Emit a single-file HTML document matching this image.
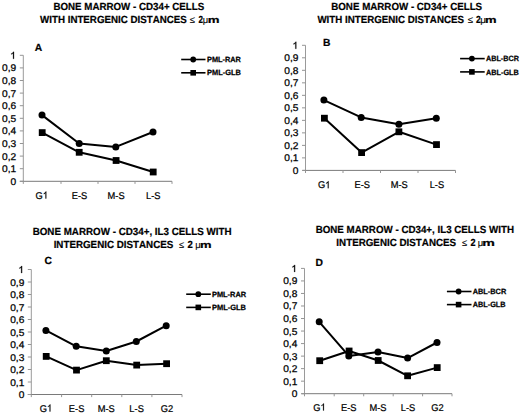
<!DOCTYPE html>
<html><head><meta charset="utf-8"><style>
html,body{margin:0;padding:0;background:#fff;}
body{width:520px;height:414px;overflow:hidden;}
svg{display:block;}
text{font-family:"Liberation Sans",sans-serif;fill:#000;text-rendering:geometricPrecision;font-kerning:none;}
.yl{font-size:9.7px;stroke:#000;stroke-width:0.25px;}
.xl{font-size:9.8px;stroke:#000;stroke-width:0.22px;}
.tt{font-weight:bold;stroke:#000;stroke-width:0.2px;}
.sym{font-weight:normal;stroke:#000;stroke-width:0.1px;}
.lt{font-size:10.3px;font-weight:bold;stroke:#000;stroke-width:0.2px;}
.lg{font-weight:bold;stroke:#000;stroke-width:0.25px;}
</style></head><body>
<svg width="520" height="414" viewBox="0 0 520 414">
<rect width="520" height="414" fill="#fff"/>
<line x1="23.3" y1="55.3" x2="23.3" y2="181.3" stroke="#9a9a9a" stroke-width="1"/>
<line x1="19.8" y1="181.3" x2="172" y2="181.3" stroke="#7a7a7a" stroke-width="1"/>
<line x1="19.8" y1="181.3" x2="23.3" y2="181.3" stroke="#959595" stroke-width="1"/>
<text class="yl" transform="translate(16.2,184.8) scale(1.05,1)" text-anchor="end">0</text>
<line x1="19.8" y1="168.7" x2="23.3" y2="168.7" stroke="#959595" stroke-width="1"/>
<text class="yl" transform="translate(16.2,172.2) scale(1.05,1)" text-anchor="end">0,1</text>
<line x1="19.8" y1="156.1" x2="23.3" y2="156.1" stroke="#959595" stroke-width="1"/>
<text class="yl" transform="translate(16.2,159.6) scale(1.05,1)" text-anchor="end">0,2</text>
<line x1="19.8" y1="143.5" x2="23.3" y2="143.5" stroke="#959595" stroke-width="1"/>
<text class="yl" transform="translate(16.2,147) scale(1.05,1)" text-anchor="end">0,3</text>
<line x1="19.8" y1="130.9" x2="23.3" y2="130.9" stroke="#959595" stroke-width="1"/>
<text class="yl" transform="translate(16.2,134.4) scale(1.05,1)" text-anchor="end">0,4</text>
<line x1="19.8" y1="118.3" x2="23.3" y2="118.3" stroke="#959595" stroke-width="1"/>
<text class="yl" transform="translate(16.2,121.8) scale(1.05,1)" text-anchor="end">0,5</text>
<line x1="19.8" y1="105.7" x2="23.3" y2="105.7" stroke="#959595" stroke-width="1"/>
<text class="yl" transform="translate(16.2,109.2) scale(1.05,1)" text-anchor="end">0,6</text>
<line x1="19.8" y1="93.1" x2="23.3" y2="93.1" stroke="#959595" stroke-width="1"/>
<text class="yl" transform="translate(16.2,96.6) scale(1.05,1)" text-anchor="end">0,7</text>
<line x1="19.8" y1="80.5" x2="23.3" y2="80.5" stroke="#959595" stroke-width="1"/>
<text class="yl" transform="translate(16.2,84) scale(1.05,1)" text-anchor="end">0,8</text>
<line x1="19.8" y1="67.9" x2="23.3" y2="67.9" stroke="#959595" stroke-width="1"/>
<text class="yl" transform="translate(16.2,71.4) scale(1.05,1)" text-anchor="end">0,9</text>
<line x1="19.8" y1="55.3" x2="23.3" y2="55.3" stroke="#959595" stroke-width="1"/>
<path d="M763 0L583 0L583 1147Q518 1085 412 1023Q306 961 221 930L221 1104Q372 1175 485 1276Q598 1377 645 1472L763 1472Z" transform="translate(10.186,58.800) scale(0.004973,-0.004736)" fill="#000" stroke="#000" stroke-width="0.25" vector-effect="non-scaling-stroke"/>
<line x1="23.3" y1="181.3" x2="23.3" y2="183.9" stroke="#959595" stroke-width="1"/>
<line x1="61" y1="181.3" x2="61" y2="183.9" stroke="#959595" stroke-width="1"/>
<line x1="98" y1="181.3" x2="98" y2="183.9" stroke="#959595" stroke-width="1"/>
<line x1="135" y1="181.3" x2="135" y2="183.9" stroke="#959595" stroke-width="1"/>
<line x1="172" y1="181.3" x2="172" y2="183.9" stroke="#959595" stroke-width="1"/>
<text class="xl" transform="translate(35.59,198.6) scale(0.95,1)">G</text>
<path d="M763 0L583 0L583 1147Q518 1085 412 1023Q306 961 221 930L221 1104Q372 1175 485 1276Q598 1377 645 1472L763 1472Z" transform="translate(42.832,198.600) scale(0.004546,-0.004785)" fill="#000" stroke="#000" stroke-width="0.22" vector-effect="non-scaling-stroke"/>
<text class="xl" transform="translate(79.5,198.6) scale(0.95,1)" text-anchor="middle">E-S</text>
<text class="xl" transform="translate(116.1,198.6) scale(0.95,1)" text-anchor="middle">M-S</text>
<text class="xl" transform="translate(153.3,198.6) scale(0.95,1)" text-anchor="middle">L-S</text>
<polyline points="42,115.1 79.2,143.5 115.8,146.9 153,132" fill="none" stroke="#000" stroke-width="2.0" stroke-linejoin="round"/>
<polyline points="42.2,132.6 79.2,152.3 116.1,160.5 153.2,172" fill="none" stroke="#000" stroke-width="2.0" stroke-linejoin="round"/>
<circle cx="42" cy="115.1" r="3.5"/>
<circle cx="79.2" cy="143.5" r="3.5"/>
<circle cx="115.8" cy="146.9" r="3.5"/>
<circle cx="153" cy="132" r="3.5"/>
<rect x="38.8" y="129.2" width="6.8" height="6.8"/>
<rect x="75.8" y="148.9" width="6.8" height="6.8"/>
<rect x="112.7" y="157.1" width="6.8" height="6.8"/>
<rect x="149.8" y="168.6" width="6.8" height="6.8"/>
<text class="lt" x="34.8" y="50.7">A</text>
<text class="tt" xml:space="preserve" style="font-size:10.3px" transform="translate(53.448,9.600) scale(0.9464,1)">BONE MARROW - CD34+ CELLS</text>
<text class="tt" xml:space="preserve" style="font-size:10.3px" transform="translate(40.090,22.700) scale(0.9459,1)">WITH INTERGENIC DISTANCES</text>
<text class="sym" xml:space="preserve" style="font-size:9.5px" transform="translate(189.709,23.000) scale(0.9946,1)">≤</text>
<text class="tt" xml:space="preserve" style="font-size:10.3px" transform="translate(198.519,22.700) scale(0.7865,1)">2</text>
<text class="sym" xml:space="preserve" style="font-size:9.5px" transform="translate(202.866,22.700) scale(0.9909,1)">μ</text>
<text class="tt" xml:space="preserve" style="font-size:9.4px" transform="translate(207.725,22.700) scale(1.4115,1)">m</text>
<line x1="181.2" y1="59.5" x2="205.5" y2="59.5" stroke="#000" stroke-width="1.6"/>
<circle cx="193.2" cy="59.5" r="2.9"/>
<text class="lg" xml:space="preserve" style="font-size:7.6px" transform="translate(207.033,62.100) scale(0.9673,1)">PML-RAR</text>
<line x1="181.2" y1="72.8" x2="205.5" y2="72.8" stroke="#000" stroke-width="1.6"/>
<rect x="190.4" y="70" width="5.6" height="5.6"/>
<text class="lg" xml:space="preserve" style="font-size:7.6px" transform="translate(207.029,75.400) scale(0.9759,1)">PML-GLB</text>
<line x1="305.5" y1="45.3" x2="305.5" y2="170.4" stroke="#9a9a9a" stroke-width="1"/>
<line x1="302.5" y1="170.4" x2="455.5" y2="170.4" stroke="#7a7a7a" stroke-width="1"/>
<line x1="302" y1="170.4" x2="305.5" y2="170.4" stroke="#959595" stroke-width="1"/>
<text class="yl" transform="translate(298.5,173.9) scale(1.05,1)" text-anchor="end">0</text>
<line x1="302" y1="157.89" x2="305.5" y2="157.89" stroke="#959595" stroke-width="1"/>
<text class="yl" transform="translate(298.5,161.39) scale(1.05,1)" text-anchor="end">0,1</text>
<line x1="302" y1="145.38" x2="305.5" y2="145.38" stroke="#959595" stroke-width="1"/>
<text class="yl" transform="translate(298.5,148.88) scale(1.05,1)" text-anchor="end">0,2</text>
<line x1="302" y1="132.87" x2="305.5" y2="132.87" stroke="#959595" stroke-width="1"/>
<text class="yl" transform="translate(298.5,136.37) scale(1.05,1)" text-anchor="end">0,3</text>
<line x1="302" y1="120.36" x2="305.5" y2="120.36" stroke="#959595" stroke-width="1"/>
<text class="yl" transform="translate(298.5,123.86) scale(1.05,1)" text-anchor="end">0,4</text>
<line x1="302" y1="107.85" x2="305.5" y2="107.85" stroke="#959595" stroke-width="1"/>
<text class="yl" transform="translate(298.5,111.35) scale(1.05,1)" text-anchor="end">0,5</text>
<line x1="302" y1="95.34" x2="305.5" y2="95.34" stroke="#959595" stroke-width="1"/>
<text class="yl" transform="translate(298.5,98.84) scale(1.05,1)" text-anchor="end">0,6</text>
<line x1="302" y1="82.83" x2="305.5" y2="82.83" stroke="#959595" stroke-width="1"/>
<text class="yl" transform="translate(298.5,86.33) scale(1.05,1)" text-anchor="end">0,7</text>
<line x1="302" y1="70.32" x2="305.5" y2="70.32" stroke="#959595" stroke-width="1"/>
<text class="yl" transform="translate(298.5,73.82) scale(1.05,1)" text-anchor="end">0,8</text>
<line x1="302" y1="57.81" x2="305.5" y2="57.81" stroke="#959595" stroke-width="1"/>
<text class="yl" transform="translate(298.5,61.31) scale(1.05,1)" text-anchor="end">0,9</text>
<line x1="302" y1="45.3" x2="305.5" y2="45.3" stroke="#959595" stroke-width="1"/>
<path d="M763 0L583 0L583 1147Q518 1085 412 1023Q306 961 221 930L221 1104Q372 1175 485 1276Q598 1377 645 1472L763 1472Z" transform="translate(292.486,48.800) scale(0.004973,-0.004736)" fill="#000" stroke="#000" stroke-width="0.25" vector-effect="non-scaling-stroke"/>
<line x1="305.5" y1="170.4" x2="305.5" y2="173" stroke="#959595" stroke-width="1"/>
<line x1="343" y1="170.4" x2="343" y2="173" stroke="#959595" stroke-width="1"/>
<line x1="380.5" y1="170.4" x2="380.5" y2="173" stroke="#959595" stroke-width="1"/>
<line x1="418" y1="170.4" x2="418" y2="173" stroke="#959595" stroke-width="1"/>
<line x1="455.5" y1="170.4" x2="455.5" y2="173" stroke="#959595" stroke-width="1"/>
<text class="xl" transform="translate(317.89,188.2) scale(0.95,1)">G</text>
<path d="M763 0L583 0L583 1147Q518 1085 412 1023Q306 961 221 930L221 1104Q372 1175 485 1276Q598 1377 645 1472L763 1472Z" transform="translate(325.132,188.200) scale(0.004546,-0.004785)" fill="#000" stroke="#000" stroke-width="0.22" vector-effect="non-scaling-stroke"/>
<text class="xl" transform="translate(362.2,188.2) scale(0.95,1)" text-anchor="middle">E-S</text>
<text class="xl" transform="translate(399.2,188.2) scale(0.95,1)" text-anchor="middle">M-S</text>
<text class="xl" transform="translate(436.9,188.2) scale(0.95,1)" text-anchor="middle">L-S</text>
<polyline points="323.9,100.1 361.2,117.4 398.9,124.2 436.3,118.2" fill="none" stroke="#000" stroke-width="2.0" stroke-linejoin="round"/>
<polyline points="324.4,118.2 361.6,152.6 398.9,131.8 436.5,144.6" fill="none" stroke="#000" stroke-width="2.0" stroke-linejoin="round"/>
<circle cx="323.9" cy="100.1" r="3.5"/>
<circle cx="361.2" cy="117.4" r="3.5"/>
<circle cx="398.9" cy="124.2" r="3.5"/>
<circle cx="436.3" cy="118.2" r="3.5"/>
<rect x="321" y="114.8" width="6.8" height="6.8"/>
<rect x="358.2" y="149.2" width="6.8" height="6.8"/>
<rect x="395.5" y="128.4" width="6.8" height="6.8"/>
<rect x="433.1" y="141.2" width="6.8" height="6.8"/>
<text class="lt" x="323" y="45.5">B</text>
<text class="tt" xml:space="preserve" style="font-size:10.3px" transform="translate(331.247,9.500) scale(0.9470,1)">BONE MARROW - CD34+ CELLS</text>
<text class="tt" xml:space="preserve" style="font-size:10.3px" transform="translate(317.390,22.600) scale(0.9453,1)">WITH INTERGENIC DISTANCES</text>
<text class="sym" xml:space="preserve" style="font-size:9.5px" transform="translate(467.703,22.900) scale(1.0163,1)">≤</text>
<text class="tt" xml:space="preserve" style="font-size:10.3px" transform="translate(476.005,22.600) scale(0.8268,1)">2</text>
<text class="sym" xml:space="preserve" style="font-size:9.5px" transform="translate(480.335,22.600) scale(1.0392,1)">μ</text>
<text class="tt" xml:space="preserve" style="font-size:9.4px" transform="translate(484.943,22.600) scale(1.3835,1)">m</text>
<line x1="460.1" y1="58.6" x2="484.7" y2="58.6" stroke="#000" stroke-width="1.6"/>
<circle cx="471.9" cy="58.6" r="2.9"/>
<text class="lg" xml:space="preserve" style="font-size:7.6px" transform="translate(486.045,61.200) scale(0.9498,1)">ABL-BCR</text>
<line x1="460.1" y1="71.9" x2="484.7" y2="71.9" stroke="#000" stroke-width="1.6"/>
<rect x="469.1" y="69.1" width="5.6" height="5.6"/>
<text class="lg" xml:space="preserve" style="font-size:7.6px" transform="translate(486.044,74.500) scale(0.9582,1)">ABL-GLB</text>
<line x1="31.3" y1="269.5" x2="31.3" y2="394.5" stroke="#9a9a9a" stroke-width="1"/>
<line x1="27.8" y1="394.5" x2="182" y2="394.5" stroke="#7a7a7a" stroke-width="1"/>
<line x1="27.8" y1="394.5" x2="31.3" y2="394.5" stroke="#959595" stroke-width="1"/>
<text class="yl" transform="translate(24.3,398) scale(1.05,1)" text-anchor="end">0</text>
<line x1="27.8" y1="382" x2="31.3" y2="382" stroke="#959595" stroke-width="1"/>
<text class="yl" transform="translate(24.3,385.5) scale(1.05,1)" text-anchor="end">0,1</text>
<line x1="27.8" y1="369.5" x2="31.3" y2="369.5" stroke="#959595" stroke-width="1"/>
<text class="yl" transform="translate(24.3,373) scale(1.05,1)" text-anchor="end">0,2</text>
<line x1="27.8" y1="357" x2="31.3" y2="357" stroke="#959595" stroke-width="1"/>
<text class="yl" transform="translate(24.3,360.5) scale(1.05,1)" text-anchor="end">0,3</text>
<line x1="27.8" y1="344.5" x2="31.3" y2="344.5" stroke="#959595" stroke-width="1"/>
<text class="yl" transform="translate(24.3,348) scale(1.05,1)" text-anchor="end">0,4</text>
<line x1="27.8" y1="332" x2="31.3" y2="332" stroke="#959595" stroke-width="1"/>
<text class="yl" transform="translate(24.3,335.5) scale(1.05,1)" text-anchor="end">0,5</text>
<line x1="27.8" y1="319.5" x2="31.3" y2="319.5" stroke="#959595" stroke-width="1"/>
<text class="yl" transform="translate(24.3,323) scale(1.05,1)" text-anchor="end">0,6</text>
<line x1="27.8" y1="307" x2="31.3" y2="307" stroke="#959595" stroke-width="1"/>
<text class="yl" transform="translate(24.3,310.5) scale(1.05,1)" text-anchor="end">0,7</text>
<line x1="27.8" y1="294.5" x2="31.3" y2="294.5" stroke="#959595" stroke-width="1"/>
<text class="yl" transform="translate(24.3,298) scale(1.05,1)" text-anchor="end">0,8</text>
<line x1="27.8" y1="282" x2="31.3" y2="282" stroke="#959595" stroke-width="1"/>
<text class="yl" transform="translate(24.3,285.5) scale(1.05,1)" text-anchor="end">0,9</text>
<line x1="27.8" y1="269.5" x2="31.3" y2="269.5" stroke="#959595" stroke-width="1"/>
<path d="M763 0L583 0L583 1147Q518 1085 412 1023Q306 961 221 930L221 1104Q372 1175 485 1276Q598 1377 645 1472L763 1472Z" transform="translate(18.286,273.000) scale(0.004973,-0.004736)" fill="#000" stroke="#000" stroke-width="0.25" vector-effect="non-scaling-stroke"/>
<line x1="31.3" y1="394.5" x2="31.3" y2="397.1" stroke="#959595" stroke-width="1"/>
<line x1="61.6" y1="394.5" x2="61.6" y2="397.1" stroke="#959595" stroke-width="1"/>
<line x1="91.7" y1="394.5" x2="91.7" y2="397.1" stroke="#959595" stroke-width="1"/>
<line x1="121.8" y1="394.5" x2="121.8" y2="397.1" stroke="#959595" stroke-width="1"/>
<line x1="151.9" y1="394.5" x2="151.9" y2="397.1" stroke="#959595" stroke-width="1"/>
<line x1="182" y1="394.5" x2="182" y2="397.1" stroke="#959595" stroke-width="1"/>
<text class="xl" transform="translate(39.69,411.5) scale(0.95,1)">G</text>
<path d="M763 0L583 0L583 1147Q518 1085 412 1023Q306 961 221 930L221 1104Q372 1175 485 1276Q598 1377 645 1472L763 1472Z" transform="translate(46.932,411.500) scale(0.004546,-0.004785)" fill="#000" stroke="#000" stroke-width="0.22" vector-effect="non-scaling-stroke"/>
<text class="xl" transform="translate(76.6,411.5) scale(0.95,1)" text-anchor="middle">E-S</text>
<text class="xl" transform="translate(106.3,411.5) scale(0.95,1)" text-anchor="middle">M-S</text>
<text class="xl" transform="translate(136.6,411.5) scale(0.95,1)" text-anchor="middle">L-S</text>
<text class="xl" transform="translate(166.9,411.5) scale(0.95,1)" text-anchor="middle">G2</text>
<polyline points="45.9,330.4 76.2,346.3 106.3,351 136.3,341.5 166.2,325.7" fill="none" stroke="#000" stroke-width="2.0" stroke-linejoin="round"/>
<polyline points="46.2,356.4 76.5,370.1 106.3,360.7 136.7,365.1 166.6,363.7" fill="none" stroke="#000" stroke-width="2.0" stroke-linejoin="round"/>
<circle cx="45.9" cy="330.4" r="3.5"/>
<circle cx="76.2" cy="346.3" r="3.5"/>
<circle cx="106.3" cy="351" r="3.5"/>
<circle cx="136.3" cy="341.5" r="3.5"/>
<circle cx="166.2" cy="325.7" r="3.5"/>
<rect x="42.8" y="353" width="6.8" height="6.8"/>
<rect x="73.1" y="366.7" width="6.8" height="6.8"/>
<rect x="102.9" y="357.3" width="6.8" height="6.8"/>
<rect x="133.3" y="361.7" width="6.8" height="6.8"/>
<rect x="163.2" y="360.3" width="6.8" height="6.8"/>
<text class="lt" x="44.5" y="263.9">C</text>
<text class="tt" xml:space="preserve" style="font-size:10.3px" transform="translate(32.644,235.000) scale(0.9515,1)">BONE MARROW - CD34+, IL3 CELLS WITH</text>
<text class="tt" xml:space="preserve" style="font-size:10.3px" transform="translate(53.645,247.700) scale(0.9503,1)">INTERGENIC DISTANCES</text>
<text class="sym" xml:space="preserve" style="font-size:9.5px" transform="translate(179.016,248.000) scale(0.9730,1)">≤</text>
<text class="tt" xml:space="preserve" style="font-size:10.3px" transform="translate(187.469,247.700) scale(0.9276,1)">2</text>
<text class="sym" xml:space="preserve" style="font-size:9.5px" transform="translate(195.166,247.700) scale(0.9909,1)">μ</text>
<text class="tt" xml:space="preserve" style="font-size:9.4px" transform="translate(199.943,247.700) scale(1.3835,1)">m</text>
<line x1="186.2" y1="294.2" x2="210.8" y2="294.2" stroke="#000" stroke-width="1.6"/>
<circle cx="198.3" cy="294.2" r="2.9"/>
<text class="lg" xml:space="preserve" style="font-size:7.6px" transform="translate(211.927,296.800) scale(0.9789,1)">PML-RAR</text>
<line x1="186.2" y1="307.4" x2="210.8" y2="307.4" stroke="#000" stroke-width="1.6"/>
<rect x="195.5" y="304.6" width="5.6" height="5.6"/>
<text class="lg" xml:space="preserve" style="font-size:7.6px" transform="translate(211.924,310.000) scale(0.9848,1)">PML-GLB</text>
<line x1="304.5" y1="268.4" x2="304.5" y2="393.7" stroke="#9a9a9a" stroke-width="1"/>
<line x1="301.5" y1="393.7" x2="452" y2="393.7" stroke="#7a7a7a" stroke-width="1"/>
<line x1="301" y1="393.7" x2="304.5" y2="393.7" stroke="#959595" stroke-width="1"/>
<text class="yl" transform="translate(297.3,397.2) scale(1.05,1)" text-anchor="end">0</text>
<line x1="301" y1="381.17" x2="304.5" y2="381.17" stroke="#959595" stroke-width="1"/>
<text class="yl" transform="translate(297.3,384.67) scale(1.05,1)" text-anchor="end">0,1</text>
<line x1="301" y1="368.64" x2="304.5" y2="368.64" stroke="#959595" stroke-width="1"/>
<text class="yl" transform="translate(297.3,372.14) scale(1.05,1)" text-anchor="end">0,2</text>
<line x1="301" y1="356.11" x2="304.5" y2="356.11" stroke="#959595" stroke-width="1"/>
<text class="yl" transform="translate(297.3,359.61) scale(1.05,1)" text-anchor="end">0,3</text>
<line x1="301" y1="343.58" x2="304.5" y2="343.58" stroke="#959595" stroke-width="1"/>
<text class="yl" transform="translate(297.3,347.08) scale(1.05,1)" text-anchor="end">0,4</text>
<line x1="301" y1="331.05" x2="304.5" y2="331.05" stroke="#959595" stroke-width="1"/>
<text class="yl" transform="translate(297.3,334.55) scale(1.05,1)" text-anchor="end">0,5</text>
<line x1="301" y1="318.52" x2="304.5" y2="318.52" stroke="#959595" stroke-width="1"/>
<text class="yl" transform="translate(297.3,322.02) scale(1.05,1)" text-anchor="end">0,6</text>
<line x1="301" y1="305.99" x2="304.5" y2="305.99" stroke="#959595" stroke-width="1"/>
<text class="yl" transform="translate(297.3,309.49) scale(1.05,1)" text-anchor="end">0,7</text>
<line x1="301" y1="293.46" x2="304.5" y2="293.46" stroke="#959595" stroke-width="1"/>
<text class="yl" transform="translate(297.3,296.96) scale(1.05,1)" text-anchor="end">0,8</text>
<line x1="301" y1="280.93" x2="304.5" y2="280.93" stroke="#959595" stroke-width="1"/>
<text class="yl" transform="translate(297.3,284.43) scale(1.05,1)" text-anchor="end">0,9</text>
<line x1="301" y1="268.4" x2="304.5" y2="268.4" stroke="#959595" stroke-width="1"/>
<path d="M763 0L583 0L583 1147Q518 1085 412 1023Q306 961 221 930L221 1104Q372 1175 485 1276Q598 1377 645 1472L763 1472Z" transform="translate(291.286,271.900) scale(0.004973,-0.004736)" fill="#000" stroke="#000" stroke-width="0.25" vector-effect="non-scaling-stroke"/>
<line x1="304.5" y1="393.7" x2="304.5" y2="396.3" stroke="#959595" stroke-width="1"/>
<line x1="334.2" y1="393.7" x2="334.2" y2="396.3" stroke="#959595" stroke-width="1"/>
<line x1="363.7" y1="393.7" x2="363.7" y2="396.3" stroke="#959595" stroke-width="1"/>
<line x1="393.2" y1="393.7" x2="393.2" y2="396.3" stroke="#959595" stroke-width="1"/>
<line x1="422.6" y1="393.7" x2="422.6" y2="396.3" stroke="#959595" stroke-width="1"/>
<line x1="452" y1="393.7" x2="452" y2="396.3" stroke="#959595" stroke-width="1"/>
<text class="xl" transform="translate(313.19,410.5) scale(0.95,1)">G</text>
<path d="M763 0L583 0L583 1147Q518 1085 412 1023Q306 961 221 930L221 1104Q372 1175 485 1276Q598 1377 645 1472L763 1472Z" transform="translate(320.432,410.500) scale(0.004546,-0.004785)" fill="#000" stroke="#000" stroke-width="0.22" vector-effect="non-scaling-stroke"/>
<text class="xl" transform="translate(348.8,410.5) scale(0.95,1)" text-anchor="middle">E-S</text>
<text class="xl" transform="translate(378,410.5) scale(0.95,1)" text-anchor="middle">M-S</text>
<text class="xl" transform="translate(408,410.5) scale(0.95,1)" text-anchor="middle">L-S</text>
<text class="xl" transform="translate(437.4,410.5) scale(0.95,1)" text-anchor="middle">G2</text>
<polyline points="319.2,321.8 348.8,355.9 378,352 407.6,358.1 437,342.5" fill="none" stroke="#000" stroke-width="2.0" stroke-linejoin="round"/>
<polyline points="319.7,360.7 349.1,351 378.2,360.5 407.6,375.8 437.2,367.6" fill="none" stroke="#000" stroke-width="2.0" stroke-linejoin="round"/>
<circle cx="319.2" cy="321.8" r="3.5"/>
<circle cx="348.8" cy="355.9" r="3.5"/>
<circle cx="378" cy="352" r="3.5"/>
<circle cx="407.6" cy="358.1" r="3.5"/>
<circle cx="437" cy="342.5" r="3.5"/>
<rect x="316.3" y="357.3" width="6.8" height="6.8"/>
<rect x="345.7" y="347.6" width="6.8" height="6.8"/>
<rect x="374.8" y="357.1" width="6.8" height="6.8"/>
<rect x="404.2" y="372.4" width="6.8" height="6.8"/>
<rect x="433.8" y="364.2" width="6.8" height="6.8"/>
<text class="lt" x="315.4" y="265.8">D</text>
<text class="tt" xml:space="preserve" style="font-size:10.3px" transform="translate(315.646,233.200) scale(0.9486,1)">BONE MARROW - CD34+, IL3 CELLS WITH</text>
<text class="tt" xml:space="preserve" style="font-size:10.3px" transform="translate(336.344,245.800) scale(0.9519,1)">INTERGENIC DISTANCES</text>
<text class="sym" xml:space="preserve" style="font-size:9.5px" transform="translate(461.916,246.100) scale(0.9730,1)">≤</text>
<text class="tt" xml:space="preserve" style="font-size:10.3px" transform="translate(470.383,245.800) scale(0.8873,1)">2</text>
<text class="sym" xml:space="preserve" style="font-size:9.5px" transform="translate(477.766,245.800) scale(0.9909,1)">μ</text>
<text class="tt" xml:space="preserve" style="font-size:9.4px" transform="translate(482.365,245.800) scale(1.5093,1)">m</text>
<line x1="446.9" y1="291.5" x2="471.5" y2="291.5" stroke="#000" stroke-width="1.6"/>
<circle cx="458.6" cy="291.5" r="2.9"/>
<text class="lg" xml:space="preserve" style="font-size:7.6px" transform="translate(472.742,294.100) scale(0.9673,1)">ABL-BCR</text>
<line x1="446.9" y1="304.6" x2="471.5" y2="304.6" stroke="#000" stroke-width="1.6"/>
<rect x="455.8" y="301.8" width="5.6" height="5.6"/>
<text class="lg" xml:space="preserve" style="font-size:7.6px" transform="translate(472.743,307.200) scale(0.9611,1)">ABL-GLB</text>
</svg>
</body></html>
